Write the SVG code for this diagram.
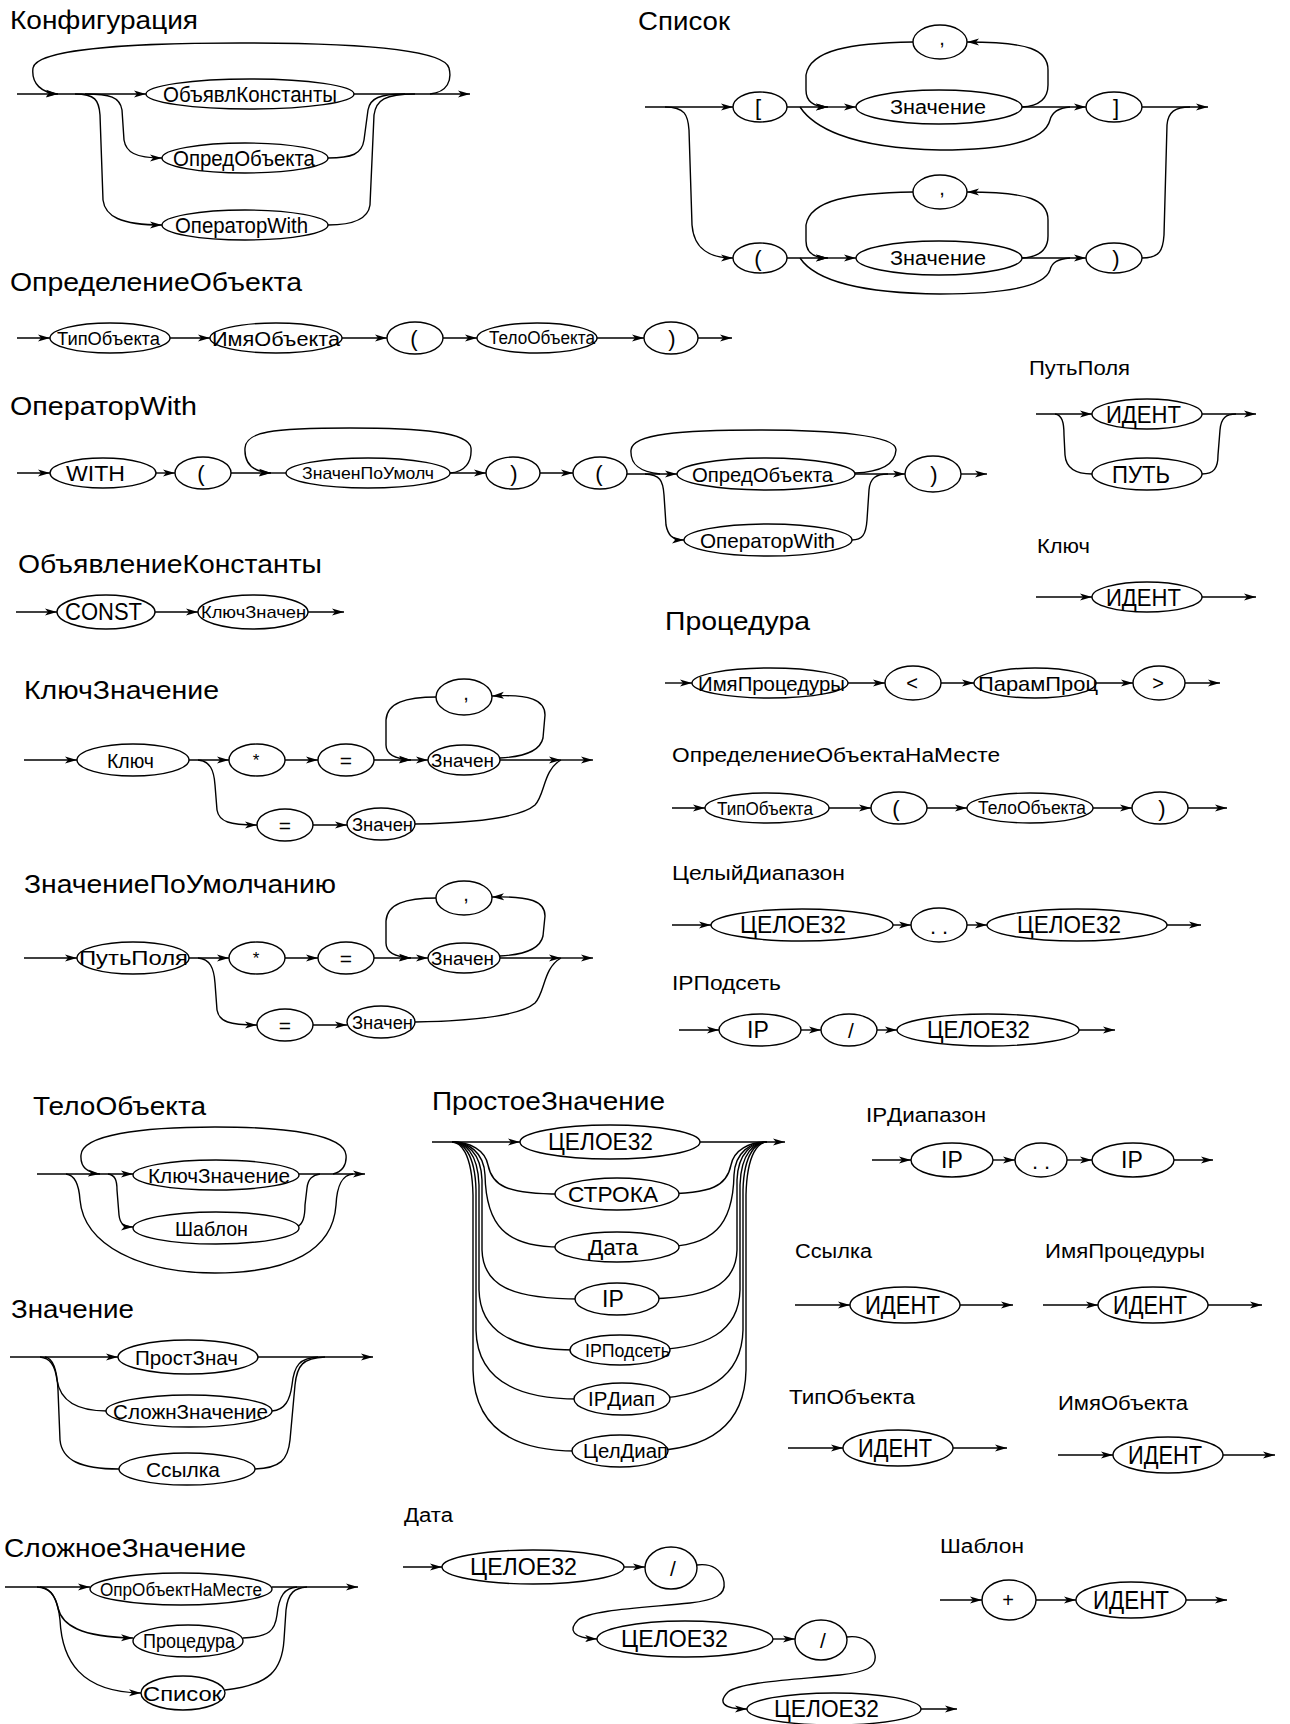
<svg xmlns="http://www.w3.org/2000/svg" width="1290" height="1724" viewBox="0 0 1290 1724">
<style>
.e{fill:#fff;stroke:#000;stroke-width:1.4}
#connectors path{fill:none;stroke:#000;stroke-width:1.4}
#connectors path.a{marker-end:url(#ar)}
text{font-family:"Liberation Sans",Arial,sans-serif;fill:#000}
.t1{font-size:25px}
.t2{font-size:20px}
.m{text-anchor:middle}
</style>
<defs>
<marker id="ar" viewBox="0 0 12 8" refX="12" refY="4" markerWidth="12" markerHeight="8" markerUnits="userSpaceOnUse" orient="auto"><path d="M0,0.5 L12,4 L0,7.5 L3,4z" fill="#000"/></marker>
</defs>
<rect width="1290" height="1724" fill="#fff"/>

<g id="titles">
<text class="t1" x="10" y="29" textLength="188" lengthAdjust="spacingAndGlyphs">Конфигурация</text>
<text class="t1" x="638" y="30" textLength="92" lengthAdjust="spacingAndGlyphs">Список</text>
<text class="t1" x="10" y="291" textLength="292" lengthAdjust="spacingAndGlyphs">ОпределениеОбъекта</text>
<text class="t1" x="10" y="415" textLength="187" lengthAdjust="spacingAndGlyphs">ОператорWith</text>
<text class="t1" x="18" y="573" textLength="304" lengthAdjust="spacingAndGlyphs">ОбъявлениеКонстанты</text>
<text class="t1" x="24" y="699" textLength="195" lengthAdjust="spacingAndGlyphs">КлючЗначение</text>
<text class="t1" x="24" y="893" textLength="312" lengthAdjust="spacingAndGlyphs">ЗначениеПоУмолчанию</text>
<text class="t1" x="665" y="630" textLength="145" lengthAdjust="spacingAndGlyphs">Процедура</text>
<text class="t1" x="33" y="1115" textLength="173" lengthAdjust="spacingAndGlyphs">ТелоОбъекта</text>
<text class="t1" x="432" y="1110" textLength="233" lengthAdjust="spacingAndGlyphs">ПростоеЗначение</text>
<text class="t1" x="11" y="1318" textLength="123" lengthAdjust="spacingAndGlyphs">Значение</text>
<text class="t1" x="4" y="1557" textLength="242" lengthAdjust="spacingAndGlyphs">СложноеЗначение</text>
<text class="t2" x="1029" y="375" textLength="101" lengthAdjust="spacingAndGlyphs">ПутьПоля</text>
<text class="t2" x="1037" y="553" textLength="53" lengthAdjust="spacingAndGlyphs">Ключ</text>
<text class="t2" x="672" y="762" textLength="328" lengthAdjust="spacingAndGlyphs">ОпределениеОбъектаНаМесте</text>
<text class="t2" x="672" y="880" textLength="173" lengthAdjust="spacingAndGlyphs">ЦелыйДиапазон</text>
<text class="t2" x="672" y="990" textLength="109" lengthAdjust="spacingAndGlyphs">IPПодсеть</text>
<text class="t2" x="866" y="1122" textLength="120" lengthAdjust="spacingAndGlyphs">IPДиапазон</text>
<text class="t2" x="795" y="1258" textLength="77" lengthAdjust="spacingAndGlyphs">Ссылка</text>
<text class="t2" x="1045" y="1258" textLength="160" lengthAdjust="spacingAndGlyphs">ИмяПроцедуры</text>
<text class="t2" x="789" y="1404" textLength="126" lengthAdjust="spacingAndGlyphs">ТипОбъекта</text>
<text class="t2" x="1058" y="1410" textLength="130" lengthAdjust="spacingAndGlyphs">ИмяОбъекта</text>
<text class="t2" x="404" y="1522" textLength="49" lengthAdjust="spacingAndGlyphs">Дата</text>
<text class="t2" x="940" y="1553" textLength="84" lengthAdjust="spacingAndGlyphs">Шаблон</text>
</g>

<g id="connectors">
<!-- Конфигурация -->
<path class="a" d="M17,94 L58,94"/>
<path class="a" d="M58,94 L146,94"/>
<path class="a" d="M354,94 L470,94"/>
<path class="a" d="M430,94 C448,92 452,80 449,68 C444,50 360,43 240,43 C120,43 36,50 33,68 C31,84 42,93 58,94"/>
<path class="a" d="M85,94 C110,94 120,97 122,110 L124,140 C126,152 135,158 162,158"/>
<path class="a" d="M75,94 C95,94 99,100 100,115 L103,200 C105,216 120,225 162,225"/>
<path d="M328,158 C352,158 362,154 364,140 L368,110 C370,98 380,94 405,94"/>
<path d="M328,225 C350,225 368,220 370,205 L374,115 C376,100 385,94 415,94"/>
<!-- Список -->
<path class="a" d="M645,107 L733,107"/>
<path class="a" d="M665,107 C685,107 688,115 689,130 L692,225 C694,250 710,258 733,258"/>
<path class="a" d="M787,107 L828,107"/>
<path class="a" d="M828,107 L856,107"/>
<path class="a" d="M1022,107 C1040,106 1048,98 1048,85 L1048,70 C1048,50 1030,42 967,42"/>
<path class="a" d="M913,42 C850,43 810,50 806,75 L806,90 C806,103 815,107 828,107"/>
<path d="M800,107 C812,125 845,148 940,150 C1010,150 1045,140 1050,120 C1052,112 1058,108 1070,107"/>
<path class="a" d="M1022,107 L1086,107"/>
<path class="a" d="M1142,107 L1208,107"/>
<path d="M1142,258 C1160,258 1163,250 1164,235 L1167,125 C1168,112 1175,107 1190,107"/>
<path class="a" d="M787,258 L828,258"/>
<path class="a" d="M828,258 L856,258"/>
<path class="a" d="M1022,258 C1040,257 1048,249 1048,236 L1048,220 C1048,200 1030,192 967,192"/>
<path class="a" d="M913,192 C850,193 810,200 806,225 L806,241 C806,254 815,258 828,258"/>
<path d="M800,258 C812,276 845,293 940,294 C1010,294 1045,285 1050,270 C1052,262 1058,259 1070,258"/>
<path class="a" d="M1022,258 L1086,258"/>
<!-- ОпределениеОбъекта -->
<path class="a" d="M17,338 L50,338"/>
<path class="a" d="M170,338 L210,338"/>
<path class="a" d="M342,338 L387,338"/>
<path class="a" d="M443,338 L477,338"/>
<path class="a" d="M597,338 L644,338"/>
<path class="a" d="M698,338 L732,338"/>
<!-- ОператорWith -->
<path class="a" d="M17,473 L50,473"/>
<path class="a" d="M156,473 L175,473"/>
<path class="a" d="M231,473 L271,473"/>
<path d="M271,473 L286,473"/>
<path class="a" d="M450,473 C465,472 472,462 471,448 C469,432 420,428 350,428 C270,428 246,432 245,448 C244,465 255,472 271,473"/>
<path class="a" d="M450,473 L486,473"/>
<path class="a" d="M540,473 L573,473"/>
<path class="a" d="M627,474 L677,474"/>
<path d="M855,473 C880,472 895,465 896,450 C897,435 830,430 760,430 C680,430 632,434 631,450 C630,465 640,472 660,474"/>
<path class="a" d="M645,474 C660,475 663,480 664,495 L666,525 C668,535 672,540 684,540"/>
<path class="a" d="M855,474 L905,474"/>
<path d="M852,540 C862,540 866,535 867,520 L869,490 C870,478 876,474 888,474"/>
<path class="a" d="M961,474 L987,474"/>
<!-- ПутьПоля -->
<path class="a" d="M1036,414 L1092,414"/>
<path class="a" d="M1202,414 L1256,414"/>
<path d="M1055,414 C1062,415 1064,422 1064,435 L1065,455 C1066,468 1075,474 1092,474"/>
<path d="M1202,474 C1214,474 1218,468 1218,455 L1220,430 C1221,418 1226,414 1236,414"/>
<!-- Ключ -->
<path class="a" d="M1036,597 L1092,597"/>
<path class="a" d="M1202,597 L1256,597"/>
<!-- ОбъявлениеКонстанты -->
<path class="a" d="M16,612 L57,612"/>
<path class="a" d="M155,612 L198,612"/>
<path class="a" d="M308,612 L344,612"/>
<!-- КлючЗначение -->
<path class="a" d="M24,760 L77,760"/>
<path class="a" d="M189,760 L229,760"/>
<path class="a" d="M285,760 L318,760"/>
<path class="a" d="M374,760 L411,760"/>
<path class="a" d="M411,760 L428,760"/>
<path class="a" d="M500,758 C520,757 540,752 543,738 L545,715 C545,700 530,694 492,696"/>
<path class="a" d="M437,697 C405,697 387,703 386,720 L386,745 C386,755 395,759 411,760"/>
<path class="a" d="M500,760 L561,760"/>
<path class="a" d="M561,760 L593,760"/>
<path class="a" d="M198,760 C210,761 214,770 215,785 L217,810 C219,822 230,825 257,825"/>
<path class="a" d="M313,825 L347,825"/>
<path d="M415,824 C470,823 520,818 535,805 C545,795 543,770 561,760"/>
<!-- ЗначениеПоУмолчанию -->
<path class="a" d="M24,958 L77,958"/>
<path class="a" d="M189,958 L229,958"/>
<path class="a" d="M285,958 L318,958"/>
<path class="a" d="M374,958 L411,958"/>
<path class="a" d="M411,958 L428,958"/>
<path class="a" d="M500,956 C520,955 540,950 543,936 L545,916 C545,901 530,896 492,897"/>
<path class="a" d="M437,898 C405,898 387,904 386,921 L386,943 C386,953 395,957 411,958"/>
<path class="a" d="M500,958 L561,958"/>
<path class="a" d="M561,958 L593,958"/>
<path class="a" d="M198,958 C210,959 214,968 215,983 L217,1010 C219,1022 230,1025 257,1025"/>
<path class="a" d="M313,1025 L347,1025"/>
<path d="M415,1022 C470,1021 520,1016 535,1003 C545,993 543,968 561,958"/>
<!-- Процедура -->
<path class="a" d="M665,683 L692,683"/>
<path class="a" d="M848,683 L885,683"/>
<path class="a" d="M941,683 L974,683"/>
<path class="a" d="M1096,683 L1133,683"/>
<path class="a" d="M1185,683 L1220,683"/>
<!-- ОпределениеОбъектаНаМесте -->
<path class="a" d="M672,808 L705,808"/>
<path class="a" d="M829,808 L871,808"/>
<path class="a" d="M927,808 L967,808"/>
<path class="a" d="M1093,808 L1132,808"/>
<path class="a" d="M1188,808 L1227,808"/>
<!-- ЦелыйДиапазон -->
<path class="a" d="M672,925 L711,925"/>
<path class="a" d="M893,925 L911,925"/>
<path class="a" d="M967,925 L987,925"/>
<path class="a" d="M1167,925 L1201,925"/>
<!-- IPПодсеть -->
<path class="a" d="M679,1030 L719,1030"/>
<path class="a" d="M801,1030 L821,1030"/>
<path class="a" d="M877,1030 L897,1030"/>
<path class="a" d="M1079,1030 L1115,1030"/>
<!-- ТелоОбъекта -->
<path class="a" d="M37,1174 L133,1174"/>
<path class="a" d="M333,1174 C342,1172 347,1165 346,1155 C344,1135 290,1127 215,1127 C140,1127 82,1135 81,1155 C80,1168 88,1173 100,1174"/>
<path class="a" d="M298,1174 L365,1174"/>
<path class="a" d="M108,1174 C115,1175 117,1180 117,1190 L119,1215 C120,1224 124,1227 133,1227"/>
<path d="M298,1226 C303,1224 305,1218 305,1205 L307,1188 C308,1178 313,1175 320,1174"/>
<path d="M66,1174 C75,1175 79,1185 80,1200 C84,1245 140,1273 215,1273 C290,1273 333,1250 336,1205 C337,1185 342,1175 353,1174"/>
<!-- Значение -->
<path class="a" d="M10,1357 L118,1357"/>
<path class="a" d="M258,1357 L373,1357"/>
<path d="M40,1357 C50,1358 55,1365 57,1380 C60,1400 75,1411 107,1411"/>
<path d="M45,1357 C52,1358 57,1368 58,1390 L60,1440 C62,1460 80,1469 119,1469"/>
<path d="M272,1411 C285,1410 290,1400 292,1385 C294,1365 300,1358 318,1357"/>
<path d="M255,1469 C280,1468 288,1460 290,1440 L295,1385 C297,1365 303,1358 325,1357"/>
<!-- ПростоеЗначение -->
<path class="a" d="M432,1142 L520,1142"/>
<path class="a" d="M700,1142 L785,1142"/>
<path d="M452,1142 C470,1142 485,1150 488,1165 C492,1185 505,1194 560,1194"/>
<path d="M452,1142 C468,1142 484,1152 485,1175 C486,1225 505,1247 560,1247"/>
<path d="M452,1142 C466,1142 481,1152 482,1180 L482,1250 C483,1285 510,1299 580,1299"/>
<path d="M452,1142 C464,1142 478,1152 479,1185 L479,1290 C480,1330 510,1350 575,1350"/>
<path d="M452,1142 C462,1142 475,1152 476,1190 L476,1330 C477,1375 510,1399 578,1399"/>
<path d="M452,1142 C460,1142 472,1152 473,1195 L473,1370 C474,1425 510,1451 576,1451"/>
<path d="M767,1142 C749,1142 734,1150 731,1165 C727,1185 714,1194 659,1194"/>
<path d="M767,1142 C751,1142 735,1152 734,1175 C733,1225 714,1247 659,1247"/>
<path d="M767,1142 C753,1142 738,1152 737,1180 L737,1250 C736,1285 709,1299 639,1299"/>
<path d="M767,1142 C755,1142 741,1152 740,1185 L740,1290 C739,1330 709,1350 644,1350"/>
<path d="M767,1142 C757,1142 744,1152 743,1190 L743,1330 C742,1375 709,1399 641,1399"/>
<path d="M767,1142 C759,1142 747,1152 746,1195 L746,1370 C745,1425 709,1451 643,1451"/>
<!-- IPДиапазон -->
<path class="a" d="M872,1160 L911,1160"/>
<path class="a" d="M993,1160 L1015,1160"/>
<path class="a" d="M1067,1160 L1092,1160"/>
<path class="a" d="M1174,1160 L1213,1160"/>
<!-- Ссылка, ИмяПроцедуры, ТипОбъекта, ИмяОбъекта -->
<path class="a" d="M795,1305 L850,1305"/>
<path class="a" d="M960,1305 L1013,1305"/>
<path class="a" d="M1043,1305 L1098,1305"/>
<path class="a" d="M1208,1305 L1262,1305"/>
<path class="a" d="M788,1448 L843,1448"/>
<path class="a" d="M953,1448 L1007,1448"/>
<path class="a" d="M1058,1455 L1113,1455"/>
<path class="a" d="M1223,1455 L1275,1455"/>
<!-- СложноеЗначение -->
<path class="a" d="M5,1587 L90,1587"/>
<path class="a" d="M272,1587 L358,1587"/>
<path class="a" d="M37,1587 C50,1588 55,1595 58,1608 C62,1625 80,1637 133,1638"/>
<path class="a" d="M40,1587 C52,1588 58,1600 60,1620 C62,1660 80,1692 141,1693"/>
<path d="M243,1638 C270,1637 275,1630 277,1615 C279,1595 285,1588 297,1587"/>
<path d="M225,1690 C270,1685 282,1670 284,1640 L286,1610 C288,1592 295,1588 307,1587"/>
<!-- Дата -->
<path class="a" d="M403,1567 L442,1567"/>
<path class="a" d="M624,1567 L645,1567"/>
<path class="a" d="M697,1565 C712,1563 722,1570 724,1582 C726,1595 715,1600 690,1603 C640,1608 590,1610 578,1620 C568,1630 572,1638 597,1639"/>
<path class="a" d="M773,1639 L795,1639"/>
<path class="a" d="M847,1637 C862,1635 873,1642 875,1655 C877,1668 865,1672 840,1675 C790,1680 740,1682 728,1692 C718,1702 722,1709 747,1709"/>
<path class="a" d="M921,1709 L957,1709"/>
<!-- Шаблон -->
<path class="a" d="M940,1600 L982,1600"/>
<path class="a" d="M1036,1600 L1076,1600"/>
<path class="a" d="M1186,1600 L1227,1600"/>
</g>

<!-- Конфигурация nodes -->
<g id="k1"><ellipse class="e" cx="250" cy="94" rx="104" ry="15"/><text x="163" y="102" font-size="22" textLength="174" lengthAdjust="spacingAndGlyphs">ОбъявлКонстанты</text></g>
<g id="k2"><ellipse class="e" cx="245" cy="158" rx="83" ry="15"/><text x="173" y="166" font-size="22" textLength="142" lengthAdjust="spacingAndGlyphs">ОпредОбъекта</text></g>
<g id="k3"><ellipse class="e" cx="245" cy="225" rx="83" ry="15"/><text x="175" y="233" font-size="22" textLength="133" lengthAdjust="spacingAndGlyphs">ОператорWith</text></g>
<!-- Список nodes -->
<g id="s1"><ellipse class="e" cx="760" cy="107" rx="27" ry="15"/><text class="m" x="758" y="115" font-size="22">[</text></g>
<g id="s2"><ellipse class="e" cx="939" cy="107" rx="83" ry="17"/><text x="890" y="114" font-size="20" textLength="96" lengthAdjust="spacingAndGlyphs">Значение</text></g>
<g id="s3"><ellipse class="e" cx="940" cy="42" rx="27" ry="17"/><text class="m" x="942" y="45" font-size="20">,</text></g>
<g id="s4"><ellipse class="e" cx="1114" cy="107" rx="28" ry="15"/><text class="m" x="1116" y="115" font-size="22">]</text></g>
<g id="s5"><ellipse class="e" cx="760" cy="258" rx="27" ry="15"/><text class="m" x="758" y="266" font-size="22">(</text></g>
<g id="s6"><ellipse class="e" cx="939" cy="258" rx="83" ry="17"/><text x="890" y="265" font-size="20" textLength="96" lengthAdjust="spacingAndGlyphs">Значение</text></g>
<g id="s7"><ellipse class="e" cx="940" cy="192" rx="27" ry="17"/><text class="m" x="942" y="195" font-size="20">,</text></g>
<g id="s8"><ellipse class="e" cx="1114" cy="258" rx="28" ry="15"/><text class="m" x="1116" y="266" font-size="22">)</text></g>
<!-- ОпределениеОбъекта nodes -->
<g id="d1"><ellipse class="e" cx="110" cy="338" rx="60" ry="15"/><text x="57" y="345" font-size="18" textLength="103" lengthAdjust="spacingAndGlyphs">ТипОбъекта</text></g>
<g id="d2"><ellipse class="e" cx="276" cy="338" rx="66" ry="15"/><text x="212" y="346" font-size="21" textLength="128" lengthAdjust="spacingAndGlyphs">ИмяОбъекта</text></g>
<g id="d3"><ellipse class="e" cx="415" cy="338" rx="28" ry="16"/><text class="m" x="414" y="346" font-size="22">(</text></g>
<g id="d4"><ellipse class="e" cx="537" cy="338" rx="60" ry="15"/><text x="489" y="344" font-size="18" textLength="106" lengthAdjust="spacingAndGlyphs">ТелоОбъекта</text></g>
<g id="d5"><ellipse class="e" cx="671" cy="338" rx="27" ry="16"/><text class="m" x="672" y="346" font-size="22">)</text></g>
<!-- ОператорWith nodes -->
<g id="w1"><ellipse class="e" cx="103" cy="473" rx="53" ry="15"/><text x="66" y="481" font-size="22" textLength="59" lengthAdjust="spacingAndGlyphs">WITH</text></g>
<g id="w2"><ellipse class="e" cx="203" cy="473" rx="28" ry="16"/><text class="m" x="201" y="481" font-size="22">(</text></g>
<g id="w3"><ellipse class="e" cx="368" cy="473" rx="82" ry="15"/><text x="302" y="479" font-size="17" textLength="132" lengthAdjust="spacingAndGlyphs">ЗначенПоУмолч</text></g>
<g id="w4"><ellipse class="e" cx="513" cy="473" rx="27" ry="16"/><text class="m" x="514" y="481" font-size="22">)</text></g>
<g id="w5"><ellipse class="e" cx="600" cy="473" rx="27" ry="16"/><text class="m" x="599" y="481" font-size="22">(</text></g>
<g id="w6"><ellipse class="e" cx="766" cy="474" rx="89" ry="16"/><text x="692" y="482" font-size="21" textLength="141" lengthAdjust="spacingAndGlyphs">ОпредОбъекта</text></g>
<g id="w7"><ellipse class="e" cx="768" cy="540" rx="84" ry="16"/><text x="700" y="548" font-size="21" textLength="135" lengthAdjust="spacingAndGlyphs">ОператорWith</text></g>
<g id="w8"><ellipse class="e" cx="933" cy="474" rx="28" ry="18"/><text class="m" x="934" y="482" font-size="22">)</text></g>
<!-- ПутьПоля / Ключ -->
<g id="pp1"><ellipse class="e" cx="1147" cy="414" rx="55" ry="15"/><text x="1106" y="423" font-size="24" textLength="75" lengthAdjust="spacingAndGlyphs">ИДЕНТ</text></g>
<g id="pp2"><ellipse class="e" cx="1147" cy="474" rx="55" ry="16"/><text x="1112" y="483" font-size="24" textLength="58" lengthAdjust="spacingAndGlyphs">ПУТЬ</text></g>
<g id="kl1"><ellipse class="e" cx="1147" cy="597" rx="55" ry="15"/><text x="1106" y="606" font-size="24" textLength="75" lengthAdjust="spacingAndGlyphs">ИДЕНТ</text></g>
<!-- ОбъявлениеКонстанты -->
<g id="c1"><ellipse class="e" cx="106" cy="612" rx="49" ry="17"/><text x="65" y="620" font-size="23" textLength="77" lengthAdjust="spacingAndGlyphs">CONST</text></g>
<g id="c2"><ellipse class="e" cx="253" cy="612" rx="55" ry="17"/><text x="201" y="618" font-size="17" textLength="105" lengthAdjust="spacingAndGlyphs">КлючЗначен</text></g>
<!-- КлючЗначение -->
<g id="kz1"><ellipse class="e" cx="133" cy="760" rx="56" ry="16"/><text x="107" y="768" font-size="21" textLength="47" lengthAdjust="spacingAndGlyphs">Ключ</text></g>
<g id="kz2"><ellipse class="e" cx="257" cy="760" rx="28" ry="16"/><text class="m" x="256" y="766" font-size="17">*</text></g>
<g id="kz3"><ellipse class="e" cx="346" cy="760" rx="28" ry="16"/><text class="m" x="346" y="768" font-size="21">=</text></g>
<g id="kz4"><ellipse class="e" cx="464" cy="760" rx="36" ry="15"/><text x="431" y="767" font-size="18" textLength="63" lengthAdjust="spacingAndGlyphs">Значен</text></g>
<g id="kz5"><ellipse class="e" cx="464" cy="697" rx="28" ry="18"/><text class="m" x="466" y="700" font-size="20">,</text></g>
<g id="kz6"><ellipse class="e" cx="285" cy="825" rx="28" ry="16"/><text class="m" x="285" y="833" font-size="21">=</text></g>
<g id="kz7"><ellipse class="e" cx="381" cy="824" rx="34" ry="16"/><text x="352" y="831" font-size="18" textLength="61" lengthAdjust="spacingAndGlyphs">Значен</text></g>
<!-- ЗначениеПоУмолчанию -->
<g id="zp1"><ellipse class="e" cx="133" cy="958" rx="56" ry="16"/><text x="79" y="965" font-size="20" textLength="109" lengthAdjust="spacingAndGlyphs">ПутьПоля</text></g>
<g id="zp2"><ellipse class="e" cx="257" cy="958" rx="28" ry="16"/><text class="m" x="256" y="964" font-size="17">*</text></g>
<g id="zp3"><ellipse class="e" cx="346" cy="958" rx="28" ry="16"/><text class="m" x="346" y="966" font-size="21">=</text></g>
<g id="zp4"><ellipse class="e" cx="464" cy="958" rx="36" ry="15"/><text x="431" y="965" font-size="18" textLength="63" lengthAdjust="spacingAndGlyphs">Значен</text></g>
<g id="zp5"><ellipse class="e" cx="464" cy="898" rx="28" ry="17"/><text class="m" x="466" y="901" font-size="20">,</text></g>
<g id="zp6"><ellipse class="e" cx="285" cy="1025" rx="28" ry="16"/><text class="m" x="285" y="1033" font-size="21">=</text></g>
<g id="zp7"><ellipse class="e" cx="381" cy="1022" rx="34" ry="16"/><text x="352" y="1029" font-size="18" textLength="61" lengthAdjust="spacingAndGlyphs">Значен</text></g>
<!-- Процедура -->
<g id="pr1"><ellipse class="e" cx="770" cy="683" rx="78" ry="15"/><text x="698" y="691" font-size="21" textLength="147" lengthAdjust="spacingAndGlyphs">ИмяПроцедуры</text></g>
<g id="pr2"><ellipse class="e" cx="913" cy="683" rx="28" ry="17"/><text class="m" x="912" y="690" font-size="20">&lt;</text></g>
<g id="pr3"><ellipse class="e" cx="1035" cy="683" rx="61" ry="15"/><text x="978" y="691" font-size="21" textLength="120" lengthAdjust="spacingAndGlyphs">ПарамПроц</text></g>
<g id="pr4"><ellipse class="e" cx="1159" cy="683" rx="26" ry="17"/><text class="m" x="1158" y="690" font-size="20">&gt;</text></g>
<!-- ОпределениеОбъектаНаМесте -->
<g id="om1"><ellipse class="e" cx="767" cy="808" rx="62" ry="15"/><text x="717" y="815" font-size="18" textLength="96" lengthAdjust="spacingAndGlyphs">ТипОбъекта</text></g>
<g id="om2"><ellipse class="e" cx="899" cy="808" rx="28" ry="16"/><text class="m" x="896" y="816" font-size="22">(</text></g>
<g id="om3"><ellipse class="e" cx="1030" cy="808" rx="63" ry="15"/><text x="978" y="814" font-size="18" textLength="108" lengthAdjust="spacingAndGlyphs">ТелоОбъекта</text></g>
<g id="om4"><ellipse class="e" cx="1160" cy="808" rx="28" ry="16"/><text class="m" x="1162" y="816" font-size="22">)</text></g>
<!-- ЦелыйДиапазон -->
<g id="cd1"><ellipse class="e" cx="802" cy="925" rx="91" ry="16"/><text x="740" y="933" font-size="23" textLength="106" lengthAdjust="spacingAndGlyphs">ЦЕЛОЕ32</text></g>
<g id="cd2"><ellipse class="e" cx="939" cy="925" rx="28" ry="17"/><text class="m" x="942" y="934" font-size="22" letter-spacing="6">..</text></g>
<g id="cd3"><ellipse class="e" cx="1077" cy="925" rx="90" ry="16"/><text x="1017" y="933" font-size="23" textLength="104" lengthAdjust="spacingAndGlyphs">ЦЕЛОЕ32</text></g>
<!-- IPПодсеть -->
<g id="ip1"><ellipse class="e" cx="760" cy="1030" rx="41" ry="16"/><text x="747" y="1038" font-size="23">IP</text></g>
<g id="ip2"><ellipse class="e" cx="849" cy="1030" rx="28" ry="16"/><text class="m" x="851" y="1038" font-size="21">/</text></g>
<g id="ip3"><ellipse class="e" cx="988" cy="1030" rx="91" ry="16"/><text x="927" y="1038" font-size="23" textLength="103" lengthAdjust="spacingAndGlyphs">ЦЕЛОЕ32</text></g>
<!-- ТелоОбъекта -->
<g id="to1"><ellipse class="e" cx="216" cy="1175" rx="83" ry="15"/><text x="148" y="1183" font-size="21" textLength="142" lengthAdjust="spacingAndGlyphs">КлючЗначение</text></g>
<g id="to2"><ellipse class="e" cx="216" cy="1228" rx="83" ry="16"/><text x="175" y="1236" font-size="21" textLength="73" lengthAdjust="spacingAndGlyphs">Шаблон</text></g>
<!-- Значение -->
<g id="zn1"><ellipse class="e" cx="188" cy="1357" rx="70" ry="17"/><text x="135" y="1365" font-size="21" textLength="103" lengthAdjust="spacingAndGlyphs">ПростЗнач</text></g>
<g id="zn2"><ellipse class="e" cx="189" cy="1411" rx="83" ry="16"/><text x="113" y="1419" font-size="21" textLength="155" lengthAdjust="spacingAndGlyphs">СложнЗначение</text></g>
<g id="zn3"><ellipse class="e" cx="187" cy="1469" rx="68" ry="16"/><text x="146" y="1477" font-size="21" textLength="74" lengthAdjust="spacingAndGlyphs">Ссылка</text></g>
<!-- ПростоеЗначение -->
<g id="ps1"><ellipse class="e" cx="610" cy="1142" rx="90" ry="17"/><text x="548" y="1150" font-size="23" textLength="105" lengthAdjust="spacingAndGlyphs">ЦЕЛОЕ32</text></g>
<g id="ps2"><ellipse class="e" cx="617" cy="1194" rx="62" ry="16"/><text x="568" y="1202" font-size="22" textLength="90" lengthAdjust="spacingAndGlyphs">СТРОКА</text></g>
<g id="ps3"><ellipse class="e" cx="617" cy="1247" rx="62" ry="15"/><text x="588" y="1255" font-size="22" textLength="50" lengthAdjust="spacingAndGlyphs">Дата</text></g>
<g id="ps4"><ellipse class="e" cx="617" cy="1299" rx="42" ry="16"/><text x="602" y="1307" font-size="23">IP</text></g>
<g id="ps5"><ellipse class="e" cx="620" cy="1350" rx="50" ry="15"/><text x="585" y="1357" font-size="19" textLength="85" lengthAdjust="spacingAndGlyphs">IPПодсеть</text></g>
<g id="ps6"><ellipse class="e" cx="622" cy="1399" rx="48" ry="16"/><text x="588" y="1406" font-size="20" textLength="67" lengthAdjust="spacingAndGlyphs">IPДиап</text></g>
<g id="ps7"><ellipse class="e" cx="620" cy="1451" rx="48" ry="16"/><text x="583" y="1458" font-size="20" textLength="85" lengthAdjust="spacingAndGlyphs">ЦелДиап</text></g>
<!-- IPДиапазон -->
<g id="id1"><ellipse class="e" cx="952" cy="1160" rx="41" ry="17"/><text x="941" y="1168" font-size="23">IP</text></g>
<g id="id2"><ellipse class="e" cx="1041" cy="1160" rx="26" ry="17"/><text class="m" x="1044" y="1169" font-size="22" letter-spacing="6">..</text></g>
<g id="id3"><ellipse class="e" cx="1133" cy="1160" rx="41" ry="17"/><text x="1121" y="1168" font-size="23">IP</text></g>
<!-- Ссылка, ИмяПроцедуры, ТипОбъекта, ИмяОбъекта -->
<g id="sl1"><ellipse class="e" cx="905" cy="1305" rx="55" ry="18"/><text x="865" y="1314" font-size="25" textLength="75" lengthAdjust="spacingAndGlyphs">ИДЕНТ</text></g>
<g id="ipr1"><ellipse class="e" cx="1153" cy="1305" rx="55" ry="18"/><text x="1113" y="1314" font-size="25" textLength="74" lengthAdjust="spacingAndGlyphs">ИДЕНТ</text></g>
<g id="tob1"><ellipse class="e" cx="898" cy="1448" rx="55" ry="18"/><text x="858" y="1457" font-size="25" textLength="74" lengthAdjust="spacingAndGlyphs">ИДЕНТ</text></g>
<g id="iob1"><ellipse class="e" cx="1168" cy="1455" rx="55" ry="18"/><text x="1128" y="1464" font-size="25" textLength="74" lengthAdjust="spacingAndGlyphs">ИДЕНТ</text></g>
<!-- СложноеЗначение -->
<g id="sz1"><ellipse class="e" cx="181" cy="1589" rx="91" ry="16"/><text x="100" y="1596" font-size="18" textLength="162" lengthAdjust="spacingAndGlyphs">ОпрОбъектНаМесте</text></g>
<g id="sz2"><ellipse class="e" cx="188" cy="1641" rx="55" ry="16"/><text x="143" y="1648" font-size="20" textLength="92" lengthAdjust="spacingAndGlyphs">Процедура</text></g>
<g id="sz3"><ellipse class="e" cx="183" cy="1693" rx="42" ry="17"/><text x="143" y="1701" font-size="21" textLength="79" lengthAdjust="spacingAndGlyphs">Список</text></g>
<!-- Дата -->
<g id="dt1"><ellipse class="e" cx="533" cy="1567" rx="91" ry="17"/><text x="470" y="1575" font-size="23" textLength="107" lengthAdjust="spacingAndGlyphs">ЦЕЛОЕ32</text></g>
<g id="dt2"><ellipse class="e" cx="671" cy="1568" rx="26" ry="21"/><text class="m" x="673" y="1576" font-size="21">/</text></g>
<g id="dt3"><ellipse class="e" cx="685" cy="1639" rx="88" ry="18"/><text x="621" y="1647" font-size="23" textLength="107" lengthAdjust="spacingAndGlyphs">ЦЕЛОЕ32</text></g>
<g id="dt4"><ellipse class="e" cx="821" cy="1640" rx="26" ry="20"/><text class="m" x="823" y="1648" font-size="21">/</text></g>
<g id="dt5"><ellipse class="e" cx="834" cy="1709" rx="87" ry="16"/><text x="774" y="1717" font-size="23" textLength="105" lengthAdjust="spacingAndGlyphs">ЦЕЛОЕ32</text></g>
<!-- Шаблон -->
<g id="sb1"><ellipse class="e" cx="1009" cy="1600" rx="27" ry="20"/><text class="m" x="1008" y="1607" font-size="20">+</text></g>
<g id="sb2"><ellipse class="e" cx="1131" cy="1600" rx="55" ry="18"/><text x="1093" y="1609" font-size="25" textLength="76" lengthAdjust="spacingAndGlyphs">ИДЕНТ</text></g>
</svg>
